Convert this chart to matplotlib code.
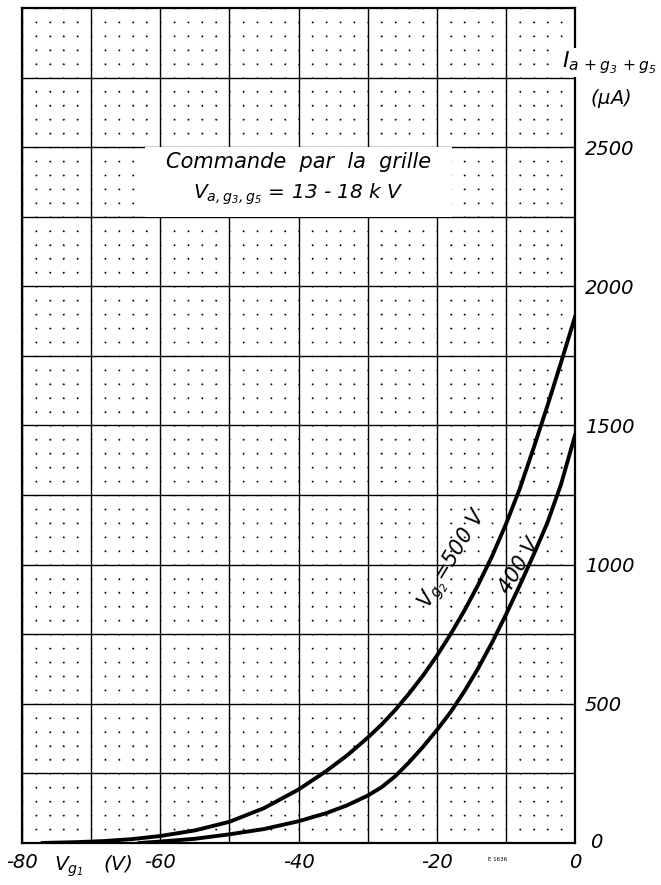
import numpy as np
import matplotlib.pyplot as plt
from matplotlib.patches import Rectangle

plt.rcParams['font.family'] = ['DejaVu Sans']
plt.rcParams['font.style'] = 'italic'
plt.rcParams['mathtext.default'] = 'it'
plt.rcParams['axes.unicode_minus'] = False

# -------------------------------
# DATA
# -------------------------------

# grid voltage Vg1 (V) and cathode current Ia+g3+g5 (uA)
vg1_500 = [-77, -72, -68, -64, -60, -55, -50, -45, -40, -36, -33, -30, -28, -26,
           -24, -22, -20, -18, -16, -14, -12, -10, -8, -6, -4, -2, 0]
ia_500 = [0, 3, 7, 14, 25, 45, 76, 125, 192, 258, 314, 378, 425, 478,
          537, 601, 672, 750, 835, 928, 1030, 1145, 1272, 1418, 1570, 1728, 1890]

vg1_400 = [-63, -60, -55, -50, -45, -40, -36, -33, -30, -28, -26, -24,
           -22, -20, -18, -16, -14, -12, -10, -8, -6, -4, -2, 0]
ia_400 = [0, 5, 15, 31, 50, 78, 107, 135, 170, 200, 240, 290,
          345, 405, 470, 545, 628, 720, 820, 925, 1035, 1150, 1290, 1465]

x_ticks = [-80, -70, -60, -50, -40, -30, -20, -10, 0]
x_labels = ['-80', '', '-60', '', '-40', '', '-20', '', '0']
y_ticks = [250, 500, 750, 1000, 1250, 1500, 1750, 2000, 2250, 2500, 2750]
y_labels = ['', '500', '', '1000', '', '1500', '', '2000', '', '2500', '']

# -------------------------------
# FIGURE
# -------------------------------

fig = plt.figure(figsize=(6.61, 8.85), dpi=100)
ax = fig.add_axes([0.0333, 0.0475, 0.8366, 0.9435])
ax.set_xlim(-80, 0)
ax.set_ylim(0, 3000)

# graph paper: solid major grid, dots at the minor crossings
ax.set_xticks(x_ticks)
ax.set_xticklabels(x_labels)
ax.set_yticks(y_ticks)
ax.set_yticklabels(y_labels)
ax.set_xticks(np.arange(-80, 1, 2), minor=True)
ax.set_yticks(np.arange(0, 3001, 50), minor=True)
ax.set_axisbelow(True)
ax.grid(which='major', color='black', linewidth=1.0)
ax.xaxis.grid(which='minor', color='black', linewidth=1.0,
              linestyle=(0.5, (1.0, 9.02)))
ax.yaxis.grid(which='minor', color='black', linewidth=1.0,
              linestyle=(0.5, (1.0, 8.954)))

ax.yaxis.tick_right()
ax.tick_params(which='both', length=0)
ax.tick_params(axis='x', pad=7, labelsize=14)
ax.tick_params(axis='y', pad=7, labelsize=14)
for sp in ax.spines.values():
    sp.set_linewidth(1.6)

# white panel behind the operating note
ax.add_patch(Rectangle((-62.2, 2250), 44.4, 250, facecolor='white',
                       edgecolor='none', zorder=1))

ax.plot(vg1_500, ia_500, color='black', linewidth=2.8, zorder=3)
ax.plot(vg1_400, ia_400, color='black', linewidth=2.8, zorder=3)

ax.text(-17.6, 1020, r'$V_{g_2}$=500 V', rotation=59, fontsize=15,
        ha='center', va='center', zorder=4)
ax.text(-8.0, 995, '400 V', rotation=59, fontsize=15,
        ha='center', va='center', zorder=4)

ax.text(-40, 2447, 'Commande  par  la  grille', fontsize=15,
        ha='center', va='center', zorder=4)
ax.text(-40, 2330, r'$V_{a,g_3,g_5}$ = 13 - 18 k V', fontsize=14.5,
        ha='center', va='center', zorder=4)

# axis titles
ax.text(0.976, 0.935, r'$I_{a\,+g_3\,+g_5}$', transform=ax.transAxes,
        fontsize=16, ha='left', va='center', zorder=6,
        bbox=dict(facecolor='white', edgecolor='none', pad=1.0))
ax.text(1.027, 0.892, r'($\mu$A)', transform=ax.transAxes,
        fontsize=14, ha='left', va='center', zorder=6)
ax.text(0.058, -0.028, r'$V_{g_1}$   (V)', transform=ax.transAxes,
        fontsize=14.5, ha='left', va='center')
ax.annotate('0', xy=(1, 0), xycoords='axes fraction', xytext=(11, 0),
            textcoords='offset points', fontsize=14, ha='left', va='center')
ax.text(0.86, -0.02, 'E 1636', transform=ax.transAxes, fontsize=4,
        ha='center', va='center', style='normal')

fig.savefig('out.png', dpi=100)
